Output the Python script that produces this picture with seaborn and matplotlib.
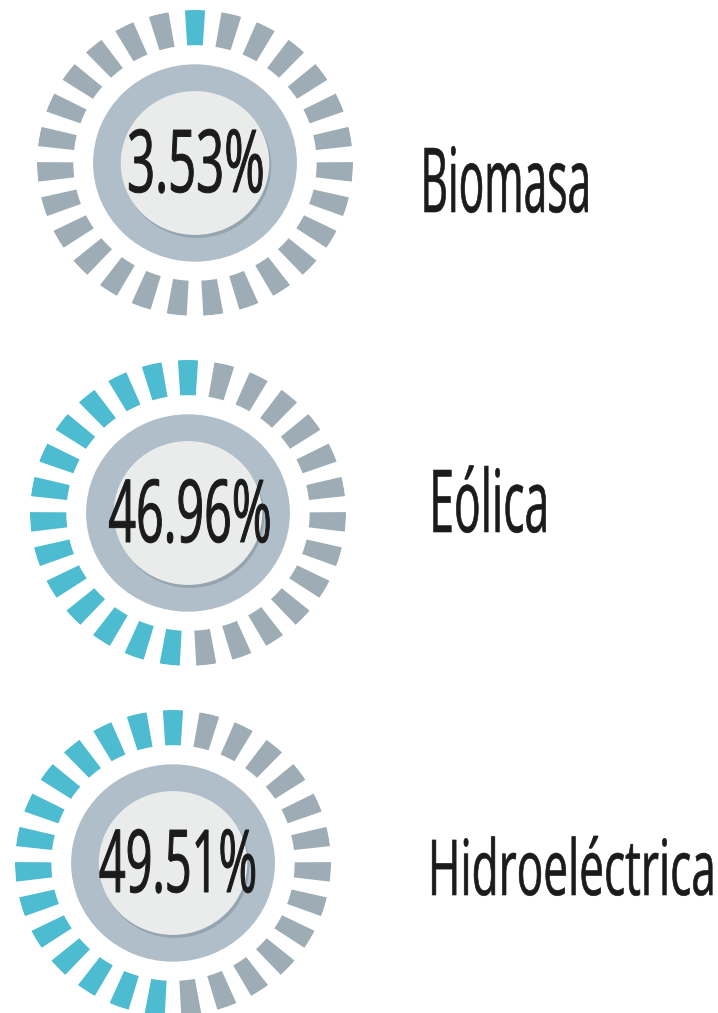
import numpy as np
import pandas as pd
import seaborn as sns
import matplotlib.pyplot as plt
from matplotlib import patheffects, transforms
from matplotlib.font_manager import FontProperties
from matplotlib.textpath import TextToPath

# data
categories = ["Biomasa", "Eólica", "Hidroeléctrica"]
shares = [3.53, 46.96, 49.51]
lit_segments = [1, 14, 14]
n_segments = 27

CYAN = "#4dbbd0"
GREY = "#9eadb5"
RING = "#afbec8"
DISC = "#eaeceb"
FONT = ["Open Sans", "DejaVu Sans"]

W, H = 718, 1013


class Stretch(patheffects.AbstractPathEffect):
    """draw the text path at a given pixel width, stretched tall from the baseline"""

    def __init__(self, width_px, sy, stroke=0.0):
        super().__init__()
        self.width_px = width_px
        self.sy = sy
        self.stroke = stroke

    def draw_path(self, renderer, gc, tpath, affine, rgbFace=None):
        ext = tpath.get_extents()
        (x0, _), (x1, _) = affine.transform([[ext.x0, 0], [ext.x1, 0]])
        sx = self.width_px / abs(x1 - x0)
        cx = (ext.x0 + ext.x1) / 2
        st = transforms.Affine2D().translate(-cx, 0).scale(sx, self.sy).translate(cx, 0)
        gc0 = renderer.new_gc()
        gc0.copy_properties(gc)
        gc0.set_linewidth(self.stroke)
        gc0.set_foreground(rgbFace)
        gc0.set_joinstyle("round")
        renderer.draw_path(gc0, tpath, st + affine, rgbFace)
        gc0.restore()


t2p = TextToPath()


def tall_text(x, y, s, width_px, size, stroke):
    # pick a font size whose natural width is width_px, then stretch it up to `size`
    prop = FontProperties(family=FONT, size=size)
    w, _, _ = t2p.get_text_width_height_descent(s, prop, ismath=False)
    small = size * width_px / (w * 100 / 72)
    fig.text(x / W, 1 - y / H, s, ha="center", va="baseline", fontsize=small,
             color="#1b1b1b", path_effects=[Stretch(width_px, size / small, stroke)])


sns.set_theme(style="white")
plt.rcParams["font.family"] = FONT

fig = plt.figure(figsize=(W / 100, H / 100), dpi=100)
fig.patch.set_facecolor("white")

# gauge centres / half sizes in pixels (gauges are a touch wider than tall)
centers = [(195, 163), (188, 513), (173, 863)]
half_w, half_h = 158, 153
pct_pos = [(196, 192, 133), (190, 542, 160), (178, 892, 155)]
label_pos = [(506, 212, 163, 64.5), (489, 532, 112, 62.5), (572, 895, 280, 55.5)]

for i, (cat, share, lit) in enumerate(zip(categories, shares, lit_segments)):
    cx, cy = centers[i]
    ax = fig.add_axes([(cx - half_w) / W, 1 - (cy + half_h) / H,
                       2 * half_w / W, 2 * half_h / H], projection="polar")
    ax.set_theta_zero_location("N")
    ax.set_theta_direction(1)

    seg = pd.DataFrame({
        "theta": np.arange(n_segments) * 2 * np.pi / n_segments,
        "r": 0.23,
        "state": ["lit" if k < lit else "off" for k in range(n_segments)],
    })
    sns.barplot(data=seg, x="theta", y="r", hue="state",
                palette={"lit": CYAN, "off": GREY}, native_scale=True,
                width=0.55, bottom=0.77, linewidth=0, saturation=1,
                errorbar=None, legend=False, ax=ax)

    # grey ring and light disc with a soft shadow
    ax.bar(0, 0.645, width=2 * np.pi, bottom=0, color=RING, linewidth=0, zorder=0.5)
    shadow = transforms.offset_copy(ax.transData, fig=fig, x=2, y=-3, units="dots")
    ax.bar(0, 0.47, width=2 * np.pi, bottom=0, color="#6f7f88", alpha=0.4,
           linewidth=0, transform=shadow, zorder=0.6)
    ax.bar(0, 0.47, width=2 * np.pi, bottom=0, color=DISC, linewidth=0, zorder=0.7)

    ax.set_ylim(0, 1)
    ax.set_aspect("auto")
    ax.set_axis_off()

    px, py, pw = pct_pos[i]
    tall_text(px, py, f"{share:.2f}%", pw, 62.5, stroke=0.7)

    lx, ly, lw, fs = label_pos[i]
    tall_text(lx, ly, cat, lw, fs, stroke=0.45)

fig.savefig("out.png", dpi=100, facecolor="white")
